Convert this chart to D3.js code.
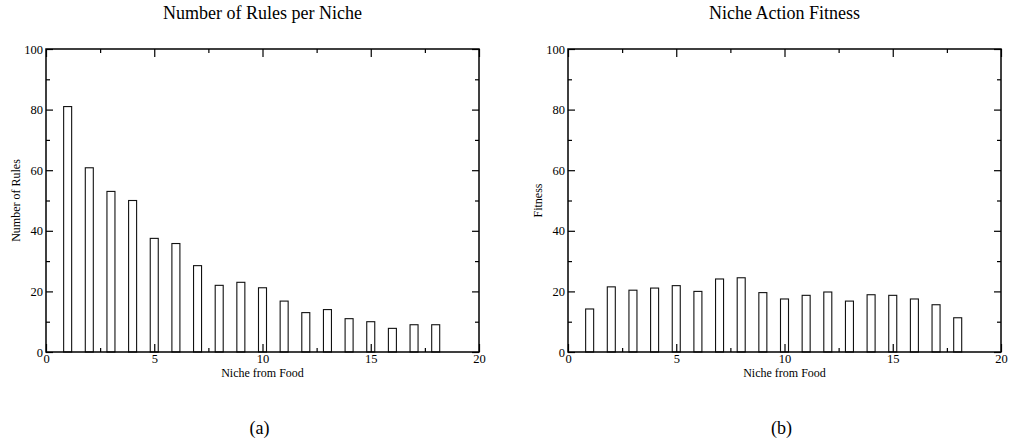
<!DOCTYPE html>
<html>
<head>
<meta charset="utf-8">
<script src="https://cdn.jsdelivr.net/npm/d3@7"></script>
<style>
html,body{margin:0;padding:0;background:#fff;}
svg{display:block;}
</style>
</head>
<body>
<svg id="chart" width="1010" height="448"></svg>
<script>
// ---- data ----
const niches = [1,2,3,4,5,6,7,8,9,10,11,12,13,14,15,16,17,18];
const rulesPerNiche = [81,60.8,53,50,37.5,35.8,28.5,22,23,21.2,16.8,13,14,11,10,7.8,9,9];
const nicheFitness = [14.2,21.5,20.4,21.1,21.9,20,24.1,24.5,19.6,17.5,18.7,19.8,16.8,18.9,18.7,17.5,15.6,11.3];
const xMajorTicks = [0,5,10,15,20];
const xMinorTicks = [2.5,7.5,12.5,17.5];
const yMajorTicks = [0,20,40,60,80,100];
const yMinorTicks = [10,30,50,70,90];
const panels = [
  {title:"Number of Rules per Niche", yLabel:"Number of Rules", xLabel:"Niche from Food", values:rulesPerNiche, caption:"(a)"},
  {title:"Niche Action Fitness", yLabel:"Fitness", xLabel:"Niche from Food", values:nicheFitness, caption:"(b)"}
];

const FONT = "'Liberation Serif', 'Times New Roman', serif";
const svg = d3.select("#chart");
const plotLefts = [46, 568];
const plotW = 433, plotTop = 49, plotBottom = 352;
const barW = 0.37;

panels.forEach((p, i) => {
  const x0 = plotLefts[i];
  const x = d3.scaleLinear().domain([0,20]).range([x0, x0 + plotW]);
  const y = d3.scaleLinear().domain([0,100]).range([plotBottom, plotTop]);
  const g = svg.append("g");

  // bars
  g.selectAll("rect.bar").data(niches).join("rect")
    .attr("class","bar")
    .attr("x", d => x(d - barW/2))
    .attr("width", d => x(d + barW/2) - x(d - barW/2))
    .attr("y", (d,j) => y(p.values[j]))
    .attr("height", (d,j) => y(0) - y(p.values[j]))
    .attr("fill","#fff").attr("stroke","#111").attr("stroke-width",1.1);

  // axes with inward ticks
  const tickStyle = sel => {
    sel.select(".domain").remove();
    sel.attr("font-family", FONT).attr("fill","#000");
    sel.selectAll("line").attr("stroke","#000").attr("stroke-width",1.2);
    sel.selectAll("text").attr("fill","#000").attr("font-family",FONT).attr("font-size",12.5);
  };
  const bottomAx = g.append("g").attr("transform",`translate(0,${plotBottom})`)
    .call(d3.axisBottom(x).tickValues(xMajorTicks).tickSize(-8).tickFormat(d3.format("d")));
  tickStyle(bottomAx);
  bottomAx.selectAll("text").attr("y",11).attr("dy","0");
  g.append("g").attr("transform",`translate(0,${plotBottom})`)
    .call(d3.axisBottom(x).tickValues(xMinorTicks).tickSize(-4).tickFormat(""))
    .call(tickStyle);
  g.append("g").attr("transform",`translate(0,${plotTop})`)
    .call(d3.axisTop(x).tickValues(xMajorTicks).tickSize(-8).tickFormat(""))
    .call(tickStyle);
  g.append("g").attr("transform",`translate(0,${plotTop})`)
    .call(d3.axisTop(x).tickValues(xMinorTicks).tickSize(-4).tickFormat(""))
    .call(tickStyle);
  const leftAx = g.append("g").attr("transform",`translate(${x0},0)`)
    .call(d3.axisLeft(y).tickValues(yMajorTicks).tickSize(-7).tickFormat(d3.format("d")));
  tickStyle(leftAx);
  leftAx.selectAll("text").attr("x",-3);
  g.append("g").attr("transform",`translate(${x0},0)`)
    .call(d3.axisLeft(y).tickValues(yMinorTicks).tickSize(-4).tickFormat(""))
    .call(tickStyle);
  g.append("g").attr("transform",`translate(${x0+plotW},0)`)
    .call(d3.axisRight(y).tickValues(yMajorTicks).tickSize(-7).tickFormat(""))
    .call(tickStyle);
  g.append("g").attr("transform",`translate(${x0+plotW},0)`)
    .call(d3.axisRight(y).tickValues(yMinorTicks).tickSize(-4).tickFormat(""))
    .call(tickStyle);

  // frame
  g.append("rect").attr("x",x0).attr("y",plotTop).attr("width",plotW).attr("height",plotBottom-plotTop)
    .attr("fill","none").attr("stroke","#000").attr("stroke-width",1.5);

  // labels
  const cx = x0 + plotW/2;
  const txt = sel => sel.attr("font-family",FONT).attr("fill","#000").attr("text-anchor","middle");
  g.append("text").call(txt).attr("x",cx).attr("y",19).attr("font-size",18).text(p.title);
  g.append("text").call(txt).attr("x",cx).attr("y",377).attr("font-size",12).text(p.xLabel);
  g.append("text").call(txt).attr("transform",`translate(${x0-26},${(plotTop+plotBottom)/2}) rotate(-90)`)
    .attr("font-size",12).text(p.yLabel);
  g.append("text").call(txt).attr("x",cx-3).attr("y",434).attr("font-size",18)
    .text(p.caption);
});
</script>
</body>
</html>
